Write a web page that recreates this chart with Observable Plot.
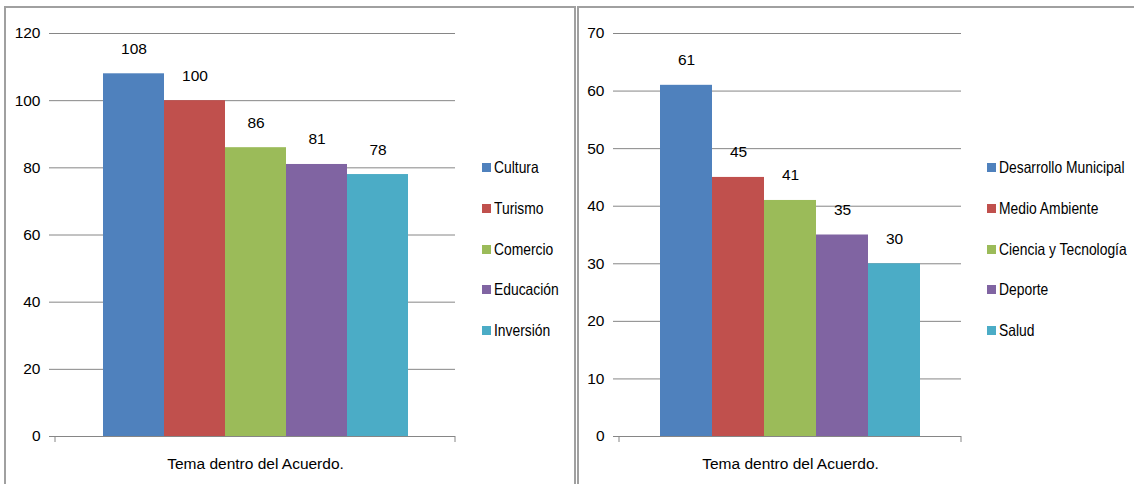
<!DOCTYPE html>
<html>
<head>
<meta charset="utf-8">
<script src="https://cdn.jsdelivr.net/npm/d3@7"></script>
<script src="https://cdn.jsdelivr.net/npm/@observablehq/plot@0.6"></script>
<style>
  html, body { margin: 0; padding: 0; background: #fff; }
  #page { position: relative; width: 1134px; height: 484px; overflow: hidden; font-family: "Liberation Sans", Arial, sans-serif; }
  .panel { position: absolute; border: 2px solid #a0a0a0; box-sizing: border-box; }
  .chart { position: absolute; top: 0; }
  .legend { position: absolute; font-size: 16.5px; color: #000; }
  .legend .item { position: absolute; white-space: nowrap; display: flex; align-items: center; height: 20px; }
  .legend .sw { width: 9px; height: 9px; margin-right: 3px; flex: none; }
  .legend .lab { display: inline-block; transform: scaleX(0.84); transform-origin: left center; }
</style>
</head>
<body>
<div id="page"></div>
<script>
// Topics and number of mentions, left panel
const leftTopics = ["Cultura", "Turismo", "Comercio", "Educación", "Inversión"];
const leftCounts = [108, 100, 86, 81, 78];
const leftTicks = [0, 20, 40, 60, 80, 100, 120];

// Topics and number of mentions, right panel
const rightTopics = ["Desarrollo Municipal", "Medio Ambiente", "Ciencia y Tecnología", "Deporte", "Salud"];
const rightCounts = [61, 45, 41, 35, 30];
const rightTicks = [0, 10, 20, 30, 40, 50, 60, 70];

const axisTitle = "Tema dentro del Acuerdo.";
const palette = ["#4F81BD", "#C0504D", "#9BBB59", "#8064A2", "#4BACC6"];

const page = document.getElementById("page");

function addPanel(left, top, width, height) {
  const p = document.createElement("div");
  p.className = "panel";
  Object.assign(p.style, {left: left + "px", top: top + "px", width: width + "px", height: height + "px"});
  page.appendChild(p);
}

function drawChart({topics, counts, ticks, left, width, marginLeft, marginRight, outer, legendLeft}) {
  const data = topics.map((t, i) => ({topic: t, count: counts[i]}));
  const ymax = ticks[ticks.length - 1];
  const chart = Plot.plot({
    width,
    height: 484,
    marginLeft,
    marginRight,
    marginTop: 33,
    marginBottom: 48,
    style: {fontFamily: "'Liberation Sans', Arial, sans-serif", fontSize: "15.5px", color: "#000", background: "transparent"},
    x: {domain: topics, paddingInner: 0, paddingOuter: outer, axis: null},
    y: {domain: [0, ymax], axis: null, label: null},
    color: {domain: topics, range: palette},
    marks: [
      Plot.gridY(ticks.filter(d => d > 0), {stroke: "#868686", strokeOpacity: 1, strokeWidth: 1}),
      Plot.axisY(ticks, {label: null, tickSize: 6, tickPadding: 9, stroke: "#868686", fontSize: 15.5, fill: "#000"}),
      Plot.ruleX([0], {frameAnchor: "left", y1: 0, y2: ymax, stroke: "#868686"}),
      Plot.barY(data, {x: "topic", y: "count", fill: "topic", insetLeft: 0, insetRight: 0}),
      Plot.ruleY([0], {stroke: "#868686"}),
      Plot.text(data, {x: "topic", y: "count", text: d => String(d.count), dy: -25, fontSize: 15.5, fill: "#000"}),
      Plot.text([axisTitle], {frameAnchor: "bottom", dy: 32, fontSize: 15.5, fill: "#000"})
    ]
  });
  chart.classList.add("chart");
  chart.style.left = left + "px";
  page.appendChild(chart);

  // end ticks of the category axis
  const svg = d3.select(chart);
  const xr = width - marginRight;
  svg.append("line").attr("x1", xr).attr("x2", xr).attr("y1", 484 - 48).attr("y2", 484 - 48 + 6)
    .attr("stroke", "#868686");
  svg.append("line").attr("x1", marginLeft).attr("x2", marginLeft).attr("y1", 484 - 48).attr("y2", 484 - 48 + 6)
    .attr("stroke", "#868686");

  const legend = document.createElement("div");
  legend.className = "legend";
  legend.style.left = legendLeft + "px";
  legend.style.top = "0px";
  const rows = [167, 208, 249, 289, 330];
  topics.forEach((t, i) => {
    const item = document.createElement("div");
    item.className = "item";
    item.style.top = (rows[i] - 10) + "px";
    const sw = document.createElement("span");
    sw.className = "sw";
    sw.style.background = palette[i];
    const lab = document.createElement("span");
    lab.className = "lab";
    lab.textContent = t;
    item.appendChild(sw);
    item.appendChild(lab);
    legend.appendChild(item);
  });
  page.appendChild(legend);
}

addPanel(4, 6, 572, 500);
addPanel(577, 6, 580, 500);

drawChart({topics: leftTopics, counts: leftCounts, ticks: leftTicks, left: 0, width: 576,
  marginLeft: 55, marginRight: 121, outer: 0.73, legendLeft: 482});
drawChart({topics: rightTopics, counts: rightCounts, ticks: rightTicks, left: 578, width: 556,
  marginLeft: 41, marginRight: 173, outer: 0.76, legendLeft: 987});
</script>
</body>
</html>
